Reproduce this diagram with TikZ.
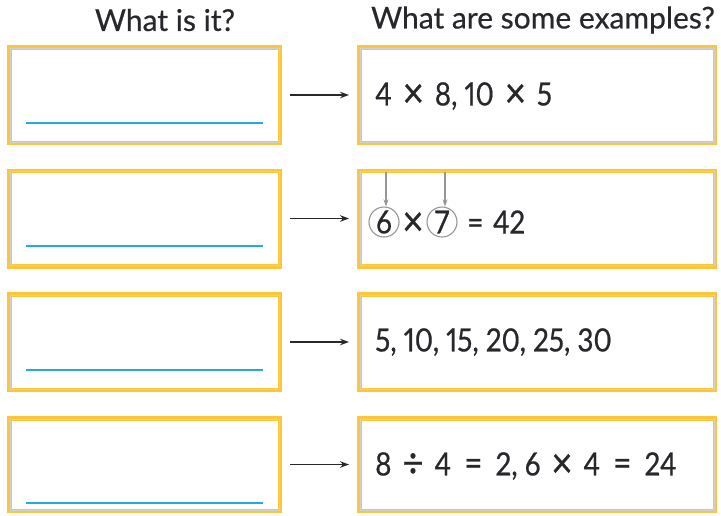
\documentclass[tikz,border=0pt]{standalone}
\usepackage{fontspec}
\setmainfont{Lato}[FakeBold=0.5]
\newfontfamily\numfont{Lato}[FakeBold=0.6, FakeStretch=0.87, Numbers=Proportional]
\newcommand\opsign[1]{\hspace{0.34em}\raisebox{-2pt}{\fontsize{42}{42}\selectfont #1}\hspace{0.34em}}
\newcommand\eqsign{\hspace{0.41em}{\fontsize{36}{36}\selectfont =}\hspace{0.41em}}
\usetikzlibrary{arrows.meta}
\definecolor{gold}{RGB}{253,198,58}
\definecolor{lineblue}{RGB}{42,167,223}
\definecolor{ink}{RGB}{40,40,44}
\definecolor{ringgray}{RGB}{150,150,150}
\begin{document}
\begin{tikzpicture}[x=1pt, y=-1pt,
    frame/.style={draw=gold, line width=4.5pt, fill=white, inner sep=0pt, minimum height=95.5pt},
    askbox/.style={frame, minimum width=270.5pt},
    showbox/.style={frame, minimum width=355.5pt},
    rim/.style={draw=black!18, line width=0.7pt},
    answer/.style={draw=lineblue, line width=2pt},
    link/.style={draw=ink, line width=1.5pt, -{Stealth[length=9pt, width=6.5pt]}, shorten <=8pt, shorten >=8pt},
    pointer/.style={draw=ringgray, line width=1.2pt, -{Stealth[length=7pt, width=5pt]}},
    head/.style={text=ink, font=\fontsize{30}{33}\selectfont},
    val/.style={text=ink, font=\numfont\fontsize{32}{34}\selectfont, inner sep=0pt},
    ring/.style={circle, draw=ringgray, line width=1.1pt, minimum size=30pt, inner sep=0pt, text=ink, font=\numfont\fontsize{32}{34}\selectfont}]
    \useasboundingbox (0,0) rectangle (721,515);

    % Headings
    \node[head] (h1) at (165,20) {What is it?};
    \node[head] (h2) at (543,20) {What are some examples?};

    % Left boxes
    \node[askbox] (l1) at (144.5,95) {};
    \node[askbox] (l2) at (144.5,218.5) {};
    \node[askbox] (l3) at (144.5,342) {};
    \node[askbox, minimum height=92.5pt] (l4) at (144.5,464.5) {};

    % Right boxes
    \node[showbox] (r1) at (537,95) {};
    \node[showbox] (r2) at (537,218.5) {};
    \node[showbox] (r3) at (537,342) {};
    \node[showbox, minimum height=92.5pt] (r4) at (537,464.5) {};

    % Inner rims
    \foreach \b in {l1,l2,l3,l4,r1,r2,r3,r4}
        \draw[rim] ([shift={(3pt,-3pt)}]\b.north west) rectangle ([shift={(-3pt,3pt)}]\b.south east);

    % Answer lines
    \draw[answer] (26,123) -- (263,123);
    \draw[answer] (26,246) -- (263,246);
    \draw[answer] (26,370) -- (263,370);
    \draw[answer] (26,503) -- (263,503);

    % Connections
    \draw[link] (l1) -- (r1);
    \draw[link] (l2) -- (r2);
    \draw[link] (l3) -- (r3);
    \draw[link] (l4) -- (r4);

    % Examples
    \node[val, anchor=west] (e1) at (375,96) {4\opsign{×}8, 10\opsign{×}5};
    \node[ring] (c6) at (384,222) {6};
    \node[val] (times) at (413,224) {\fontsize{42}{42}\selectfont ×};
    \node[ring] (c7) at (442,222) {7};
    \node[val, anchor=west] (eq) at (467,222) {=\hspace{0.3em}42};
    \node[val, anchor=west] (e3) at (375,342) {5, 10, 15, 20, 25, 30};
    \node[val, anchor=west] (e4) at (375,466) {8\opsign{÷}4\eqsign 2, 6\opsign{×}4\eqsign 24};

    % Pointers
    \coordinate (p6) at (386,172);
    \coordinate (p7) at (445,172);
    \draw[pointer] (p6) -- (p6 |- c6.north);
    \draw[pointer] (p7) -- (p7 |- c7.north);
\end{tikzpicture}
\end{document}
